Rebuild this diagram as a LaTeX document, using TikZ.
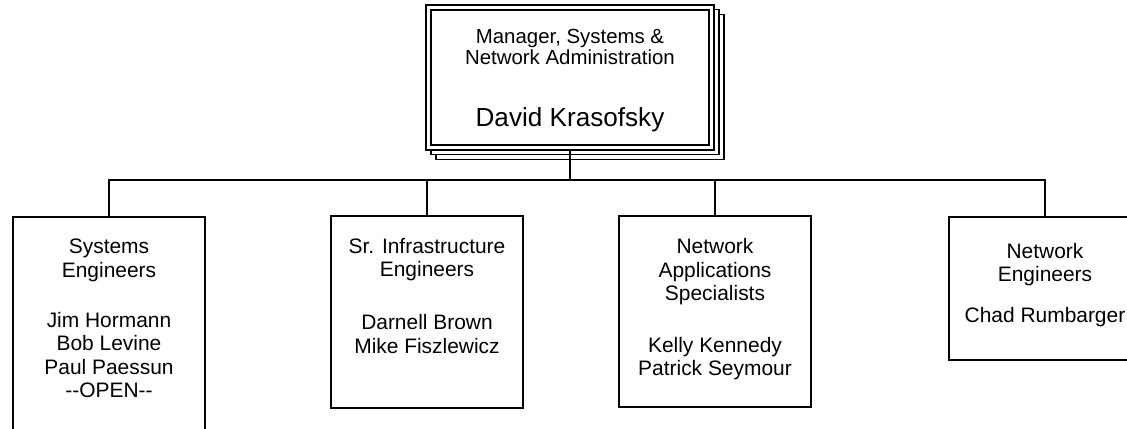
\documentclass[tikz,border=0pt]{standalone}
\usepackage{fontspec}
\setmainfont{Liberation Sans}
\usetikzlibrary{positioning, backgrounds}

\begin{document}
\begin{tikzpicture}[x=0.75pt, y=-0.75pt,
  unit/.style={draw, line width=1.5pt, outer sep=0pt, inner sep=0pt, minimum width=144pt},
  names/.style={align=center, inner sep=0pt, font=\fontsize{15.7}{17.6}\selectfont},
  link/.style={line width=1.5pt},
  sheet/.style={draw, fill=white, line width=1pt}]
\useasboundingbox (0,0) rectangle (1127,428);
% manager box, double frame with two sheets behind it
\node[draw, double, double distance=2.9pt, line width=1pt, fill=white, outer sep=1.95pt,
  minimum width=212.25pt, minimum height=105pt, align=center,
  font=\fontsize{15.3}{15.2}\selectfont] (boss) at (570,77.5)
  {\rule{0pt}{15.5pt}Manager, Systems \&\\Network Administration\\[31.5pt]{\fontsize{19.6}{22}\selectfont David Krasofsky}};
\begin{scope}[on background layer]
\draw[sheet] ([shift={(10,9.5)}]boss.south west) rectangle ([shift={(10,9.5)}]boss.north east);
\draw[sheet] ([shift={(5,4.5)}]boss.south west) rectangle ([shift={(5,4.5)}]boss.north east);
\end{scope}
% groups, left to right
\node[unit, minimum height=167.25pt, anchor=north] (sys) at (109,217) {};
\node[unit, minimum height=144pt, anchor=north] (infra) at (427,216) {};
\node[unit, minimum height=143.25pt, anchor=north] (apps) at (715,216) {};
\node[unit, minimum height=107.25pt, anchor=north] (neteng) at (1045,217) {};
\node[names, below=16.4pt of sys.north] (sys-t)
  {Systems\\Engineers\\[19.9pt]Jim Hormann\\Bob Levine\\Paul Paessun\\-{}-OPEN-{}-};
\node[names, below=16.4pt of infra.north] (infra-t)
  {Sr. Infrastructure\\Engineers\\[22.1pt]Darnell Brown\\Mike Fiszlewicz};
\node[names, below=16.6pt of apps.north] (apps-t)
  {Network\\Applications\\Specialists\\[21.4pt]Kelly Kennedy\\Patrick Seymour};
\node[names, below=19.2pt of neteng.north] (neteng-t)
  {Network\\Engineers\\[13.1pt]Chad Rumbarger};
% lines
\coordinate (bus) at (571,180);
\draw[link] (boss.south) -- (boss.south |- bus);
\draw[link] (sys.north) |- (bus) -| (neteng.north);
\draw[link] (infra.north) -- (infra.north |- bus);
\draw[link] (apps.north) -- (apps.north |- bus);
\end{tikzpicture}
\end{document}
